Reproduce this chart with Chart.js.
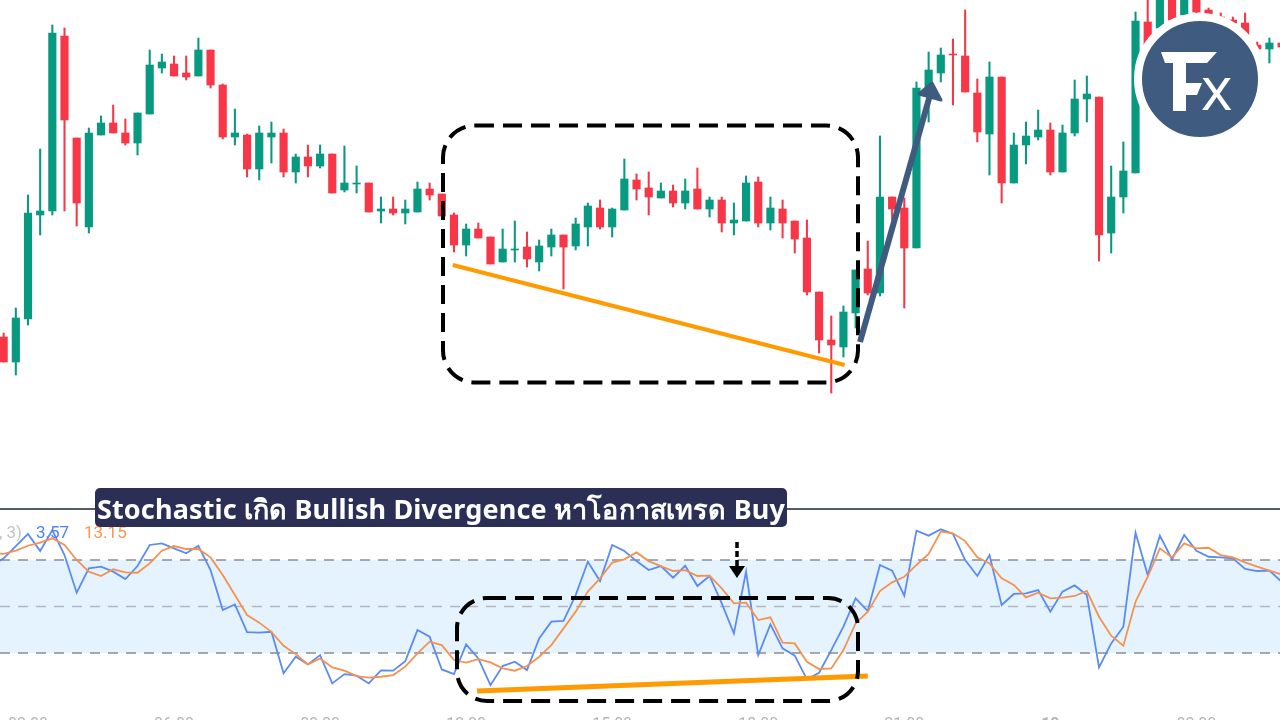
<!DOCTYPE html>
<html>
<head>
<meta charset="utf-8">
<title>Stochastic Bullish Divergence</title>
<script src="https://cdn.jsdelivr.net/npm/chart.js@4/dist/chart.umd.min.js"></script>
<style>
    html, body { margin: 0; padding: 0; background: #fff; width: 1280px; height: 720px; overflow: hidden; }
    canvas { position: absolute; left: 0; display: block; filter: blur(0.35px); }
    #priceChart { top: 0; }
    #stochChart { top: 509px; }
    #paneLine { position: absolute; left: 0; top: 508px; width: 1280px; height: 1.5px; background: #565b66; }
    #overlay { position: absolute; left: 0; top: 0; filter: blur(0.35px); }
    .legend { position: absolute; top: 522px; font: 17px Roboto, sans-serif; }
    #title {
        position: absolute; left: 95px; top: 488px; width: 692px; height: 39px;
        background: #2b2f55; color: #fff; border-radius: 5px; text-align: center; white-space: nowrap;
        font: 700 27px/41px "Noto Sans", sans-serif; letter-spacing: 0.14px;
    }
</style>
</head>
<body>
<canvas id="priceChart" width="1280" height="508"></canvas>
<canvas id="stochChart" width="1280" height="230"></canvas>
<div id="paneLine"></div>
<span class="legend" style="left:-1px;color:#c4c4c4">, 3)</span>
<span class="legend" style="left:36px;color:#4f82f7">3.57</span>
<span class="legend" style="left:84px;color:#ff9550">13.15</span>
<svg id="overlay" width="1280" height="720">
    <rect x="443" y="125.500" width="415" height="257" rx="32" fill="none" stroke="#000" stroke-width="4" stroke-dasharray="19 9"/>
    <rect x="457" y="598" width="401" height="103" rx="30" fill="none" stroke="#000" stroke-width="4" stroke-dasharray="19 9"/>
    <!-- up arrow -->
    <line x1="860" y1="342" x2="930" y2="95" stroke="#3f5b80" stroke-width="6"/>
    <polygon points="932,83 919,94 941,100" fill="#3f5b80" stroke="#3f5b80" stroke-width="3" stroke-linejoin="round"/>
    <!-- small arrow above the stochastic -->
    <line x1="737" y1="542" x2="737" y2="566" stroke="#000" stroke-width="3.500" stroke-dasharray="6 3"/>
    <polygon points="729,566 745,566 737,578" fill="#000"/>
    <!-- logo -->
    <circle cx="1200" cy="79" r="62" fill="#3f5b80" stroke="#fff" stroke-width="8"/>
    <polygon points="1161,52 1217,52 1207,63 1186,63 1186,83 1202,83 1197,95 1186,95 1186,111 1173,111 1173,63 1165,63" fill="#fff"/>
    <text x="1201" y="110" fill="#fff" font-family="Open Sans, sans-serif" font-weight="500" font-size="60">x</text>
</svg>
<div id="title">Stochastic เกิด Bullish Divergence หาโอกาสเทรด Buy</div>

<script>
// Price candles (arbitrary price units, the axis is not shown)
const opens = [171,146,189,293,297,472,370,281,373,385,375,365,394,440,444,435,432,458,423,371,373,339,371,375,336,351,342,354,318,324,325,297,299,295,296,319,314,293,263,279,271,246,258,261,246,261,273,262,281,300,281,298,328,320,310,317,305,319,299,308,285,287,326,285,299,287,270,216,168,161,195,239,215,311,300,260,418,435,454,452,415,374,431,325,363,371,378,336,375,409,411,275,311,335,486,480,516,493,520,498,491,488,485,463,459,465];
const highs = [175,200,313,359,483,480,370,380,392,403,389,395,458,454,452,452,470,458,424,399,374,382,386,379,354,363,363,354,362,342,325,311,311,308,326,325,314,295,284,285,271,279,287,276,268,279,273,290,305,308,300,349,334,336,325,323,329,340,311,311,305,332,331,311,308,287,288,216,192,202,238,267,372,311,310,426,456,460,469,498,429,446,431,375,386,398,385,383,428,432,411,342,366,496,520,525,525,525,525,500,495,491,495,466,470,466];
const lows = [146,133,183,273,293,297,282,275,373,375,363,353,394,435,432,428,432,420,369,363,331,328,345,331,325,331,340,315,316,315,296,285,293,284,296,308,292,256,252,270,244,246,246,241,237,252,219,258,262,279,271,298,308,293,310,301,299,299,291,276,273,287,281,278,270,255,213,155,115,151,180,213,212,288,200,260,386,426,403,416,366,333,305,325,344,368,333,336,372,386,247,255,295,335,463,478,485,490,494,491,488,484,470,458,445,460];
const closes = [146,190,295,297,475,388,305,375,385,375,365,395,443,446,432,431,458,423,371,375,339,375,375,336,351,342,354,315,325,325,296,299,295,299,319,313,292,263,279,270,244,259,259,249,262,273,261,284,302,281,299,329,319,311,317,305,317,299,308,285,288,325,285,300,285,269,216,168,163,196,238,215,311,299,260,420,438,453,453,416,376,431,325,363,372,378,336,375,409,414,273,311,337,487,463,516,488,516,496,493,490,485,473,459,465,461];

// Stochastic %K and %D, the first value belongs to the bar just off the left edge
const stochK = [76.0,81.1,89.0,96.8,85.8,99.3,83.2,58.9,74.6,75.7,72.5,67.7,76.1,89.7,90.7,87.5,84.3,89.2,73.5,47.7,51.4,33.5,33.1,33.7,6.9,17.6,12.7,18.7,0.4,6.4,5.4,0.4,8.8,8.6,14.8,34.8,30.5,9.4,6.4,25.6,16.5,-0.7,11.6,14.4,9.0,29.4,40.2,40.8,57.4,78.9,66.4,89.7,85.8,79.3,73.5,76.1,68.6,76.3,63.2,69.7,52.0,32.7,72.5,18.7,38.5,23.0,18.3,3.0,7.3,21.9,37.0,55.3,47.1,76.8,73.1,57.0,98.9,95.7,99.8,96.8,80.0,69.7,83.2,51.0,58.1,58.5,60.6,46.7,59.6,63.6,57.4,10.7,26.2,37.0,97.6,70.3,95.7,80.4,96.1,86.0,82.1,81.7,81.1,74.2,72.9,73.1,66.0];
const stochD = [84.5,83.9,86.0,89.2,91.2,94.0,89.7,80.0,72.5,69.7,74.0,72.0,71.8,77.8,86.0,89.0,87.1,87.1,81.7,70.3,57.4,44.5,39.6,33.7,24.7,19.3,12.7,16.5,10.7,8.6,5.1,4.1,4.7,5.8,11.2,19.8,27.3,25.1,15.5,13.8,16.1,14.0,10.1,8.6,11.6,17.6,25.1,35.9,46.7,59.6,68.2,78.3,80.4,84.9,79.3,76.1,72.9,73.5,69.7,69.9,61.7,52.0,52.5,41.3,43.0,26.7,26.2,14.4,9.7,10.1,21.9,39.1,46.7,60.0,65.6,69.2,76.8,83.9,98.3,97.2,92.2,81.7,77.8,68.2,63.9,55.9,58.9,55.3,55.7,56.8,60.0,43.4,31.2,24.7,53.1,69.2,87.5,81.7,90.7,87.5,87.9,83.2,81.7,78.5,75.7,73.1,70.7];

// Time axis
const tickIndexes = [2,14,26,38,50,62,74,86,98];
const tickLabels = ['02:00','06:00','09:00','12:00','15:00','18:00','21:00','19','03:00'];

// Stochastic levels
const levelUpper = 80;
const levelMiddle = 50;
const levelLower = 20;

// Divergence lines, drawn by hand on the original
const priceTrendIndexes = [36.9,69.1];
const priceTrendValues = [243,143];
const stochTrendIndexes = [38.9,71.0];
const stochTrendValues = [-4.5,5.2];

const xMin = -0.3;
const xMax = 104.87;
const greenColor = '#089981';
const redColor = '#f73748';

const candleColors = opens.map((o, i) => closes[i] >= o ? greenColor : redColor);

// Stochastic arrays start one bar before the candles
function indexed(values) {
    return values.map((v, i) => ({ x: i - 1, y: v }));
}

function pairs(xs, ys) {
    return xs.map((x, i) => ({ x: x, y: ys[i] }));
}

function hideAxis(min, max) {
    return { type: 'linear', display: false, min: min, max: max, offset: false };
}

const baseOptions = {
    responsive: false,
    animation: false,
    devicePixelRatio: 1,
    layout: { padding: 0 },
    plugins: {
        legend: { display: false },
        tooltip: { enabled: false },
        filler: { drawTime: 'beforeDatasetsDraw' }
    }
};

new Chart(document.getElementById('priceChart'), {
    type: 'bar',
    data: {
        datasets: [
            {
                type: 'line',
                label: 'divergence',
                data: pairs(priceTrendIndexes, priceTrendValues),
                borderColor: '#ff9a00',
                borderWidth: 4,
                pointRadius: 0
            },
            {
                label: 'body',
                data: opens.map((o, i) => ({ x: i, y: [o, closes[i]] })),
                backgroundColor: candleColors,
                barThickness: 7.5,
                grouped: false
            },
            {
                label: 'wick',
                data: highs.map((h, i) => ({ x: i, y: [lows[i], h] })),
                backgroundColor: candleColors,
                barThickness: 1.4,
                grouped: false
            }
        ]
    },
    options: { ...baseOptions, scales: { x: hideAxis(xMin, xMax), y: hideAxis(0, 508) } }
});

function levelLine(value, color, fill) {
    return {
        type: 'line',
        data: pairs([xMin, xMax], [value, value]),
        borderColor: color,
        borderWidth: 1.5,
        borderDash: [10, 8],
        pointRadius: 0,
        fill: fill,
        backgroundColor: '#e5f3fe'
    };
}

new Chart(document.getElementById('stochChart'), {
    type: 'line',
    data: {
        datasets: [
            { label: 'divergence', data: pairs(stochTrendIndexes, stochTrendValues), borderColor: '#ff9a00', borderWidth: 5, pointRadius: 0 },
            { label: '%D', data: indexed(stochD), borderColor: '#f5924f', borderWidth: 1.8, pointRadius: 0, tension: 0 },
            { label: '%K', data: indexed(stochK), borderColor: '#5a8bf5', borderWidth: 1.8, pointRadius: 0, tension: 0 },
            levelLine(levelUpper, '#8a8d95', '+1'),
            levelLine(levelLower, '#8a8d95', false),
            levelLine(levelMiddle, '#b4b7bd', false)
        ]
    },
    options: {
        ...baseOptions,
        scales: {
            x: {
                type: 'linear',
                min: xMin,
                max: xMax,
                grid: { display: false, drawTicks: false },
                border: { display: false },
                afterFit: (scale) => { scale.height = 30; },
                afterBuildTicks: (scale) => { scale.ticks = tickIndexes.map(v => ({ value: v })); },
                ticks: {
                    autoSkip: false,
                    maxRotation: 0,
                    padding: 6,
                    color: '#b2b5bb',
                    font: (ctx) => ({ family: 'Roboto', size: 16, weight: tickLabels[ctx.index] === '19' ? 'bold' : 'normal' }),
                    callback: (v) => tickLabels[tickIndexes.indexOf(v)]
                }
            },
            // 1.55 px per stochastic point, so 80 / 50 / 20 land on the three dashed levels
            y: hideAxis(-16.1, 112.9)
        }
    }
});
</script>
</body>
</html>
